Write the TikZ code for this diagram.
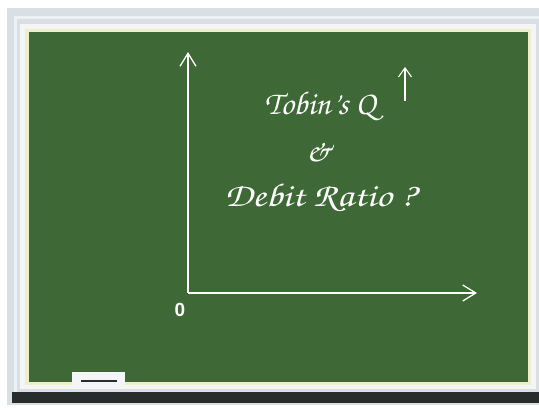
\documentclass[tikz,border=0pt]{standalone}
\usepackage{fontspec}
\setsansfont{Liberation Sans}
\usetikzlibrary{arrows.meta}
\definecolor{boardgreen}{RGB}{62,104,54}
\definecolor{framegray}{RGB}{218,223,228}
\definecolor{chalkcream}{RGB}{240,238,200}
\definecolor{traydark}{RGB}{40,44,44}
\newcommand{\chalkfont}{\fontencoding{T1}\fontfamily{pzc}\fontseries{mb}\fontshape{it}\fontsize{33}{36}\selectfont}
\tikzset{
  chalk/.style={draw=white!92!chalkcream, line width=1.3pt},
  chalktext/.style={text=white!95!chalkcream, font=\chalkfont}
}
\begin{document}
\begin{tikzpicture}[x=1pt,y=-1pt]
    \useasboundingbox[fill=white] (0,0) rectangle (539,410);
    % frame and board
    \fill[framegray] (7,8) rectangle (539,405);
    \draw[white!55!framegray, line width=3pt] (15,17) rectangle (560,396);
    \fill[white!70!framegray] (20,24) rectangle (536,389);
    \fill[chalkcream] (25,29) rectangle (531,385);
    \fill[boardgreen] (29,32) rectangle (528,382);
    \fill[traydark] (12,392) rectangle (539,403);
    % eraser
    \fill[white!70!framegray] (72,372) rectangle (125,385);
    \draw[traydark, line width=1.5pt] (81,381) -- (117,381);
    % axes
    \coordinate (O) at (188,293);
    \coordinate (ytop) at (188,52);
    \coordinate (xend) at (477,293);
    \draw[chalk, -{Straight Barb[length=13pt,width=16pt]}] (O) -- (ytop);
    \draw[chalk, -{Straight Barb[length=13pt,width=16pt]}] (O) -- (xend);
    \node[text=white, font=\sffamily\bfseries\fontsize{19}{21}\selectfont] (zero) at (180,310) {0};
    % text
    \node[chalktext] (tobin) at (320,106) {Tobin's Q};
    \node[chalktext] (amp) at (319,152) {\&};
    \node[chalktext, xscale=1.2] (debit) at (320,198) {Debit Ratio ?};
    \coordinate (upbot) at (405,101);
    \coordinate (uptop) at (405,67);
    \draw[chalk, line width=1.1pt, -{Straight Barb[length=9pt,width=13pt]}] (upbot) -- (uptop);
  \end{tikzpicture}
\end{document}
